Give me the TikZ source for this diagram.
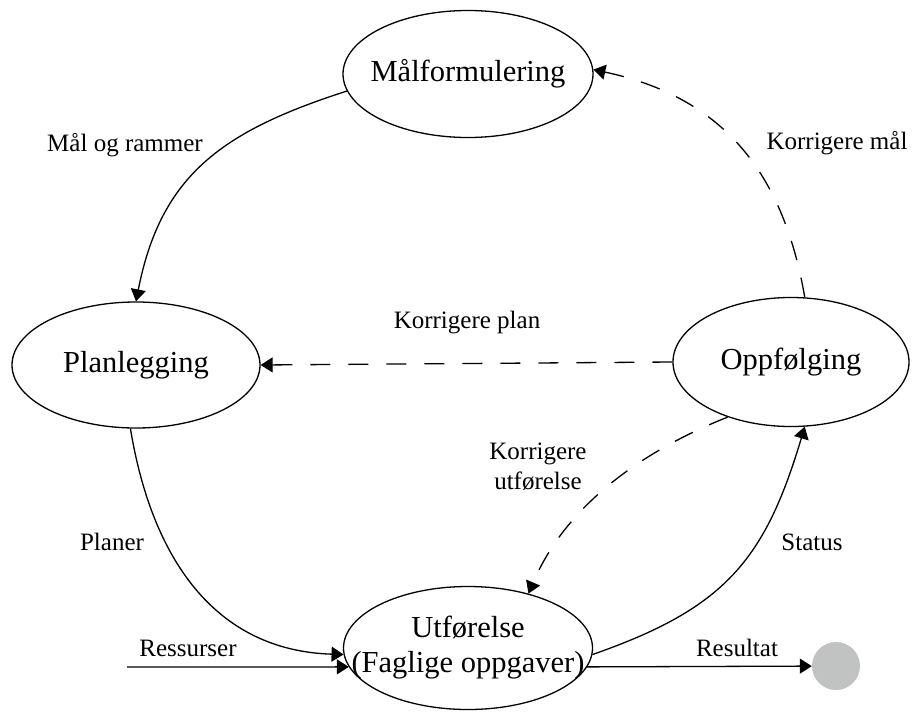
\documentclass[tikz,border=0pt]{standalone}
\usepackage{fontspec}
\setmainfont{Liberation Serif}
\usetikzlibrary{shapes.geometric,arrows.meta}
\definecolor{endgray}{RGB}{193,194,194}
\newcommand\ctrtext[1]{\makebox[0pt]{\begin{tabular}{@{}c@{}}#1\end{tabular}}}
\begin{document}
\begin{tikzpicture}[x=1pt,y=-1pt,
  state/.style={ellipse,draw,line width=1.3pt,inner sep=0pt,font=\fontsize{30.5}{35}\selectfont},
  lbl/.style={font=\fontsize{25}{30}\selectfont,inner sep=0pt,align=center},
  flow/.style={line width=1.3pt,-{Triangle[length=12pt,width=15pt]}},
  back/.style={flow,dash pattern=on 20pt off 18pt}]
\useasboundingbox (0,0) rectangle (912,715);
\node[state,minimum width=250pt,minimum height=127pt] (malf) at (468,74) {\ctrtext{Målformulering}};
\node[state,minimum width=248pt,minimum height=126pt] (plan) at (136,365) {\ctrtext{Planlegging}};
\node[state,minimum width=236pt,minimum height=129pt] (oppf) at (791,362) {\ctrtext{Oppfølging}};
\node[state,minimum width=249pt,minimum height=123pt] (utf) at (468,648) {\ctrtext{Utførelse\\(Faglige oppgaver)}};
\node[circle,fill=endgray,minimum size=48pt,inner sep=0pt] (endc) at (836,666) {};
\coordinate (resin) at (127,667);

\draw[flow] (malf.188) .. controls +(-124,40) and +(25,-127) .. (plan.north);
\draw[flow] (plan.265) .. controls +(21,128) and +(-130,-4) .. (utf.183);
\draw[flow] (resin) -- (utf.189);
\draw[flow] (utf.-9) -- (endc);
\draw[flow] (utf.-3) .. controls +(132,-46) and +(-40,134) .. (oppf.-78);
\draw[back] (oppf.78) .. controls +(-22,-128) and +(127,27) .. (malf.2);
\draw[back] (oppf.west) -- (plan.east);
\draw[back] (oppf.221) .. controls +(-88,35) and +(37,-87) .. (utf.42);

\node[lbl] (lmal) at (125,145) {Mål og rammer};
\node[lbl] (lkm) at (837,143) {Korrigere mål};
\node[lbl] (lkp) at (467,323) {Korrigere plan};
\node[lbl] (lku) at (538,467) {Korrigere\\utførelse};
\node[lbl] (lpl) at (112,542) {Planer};
\node[lbl] (lst) at (812,542) {Status};
\node[lbl] (lres) at (188,648) {Ressurser};
\node[lbl] (lrlt) at (737,648) {Resultat};
\end{tikzpicture}
\end{document}
